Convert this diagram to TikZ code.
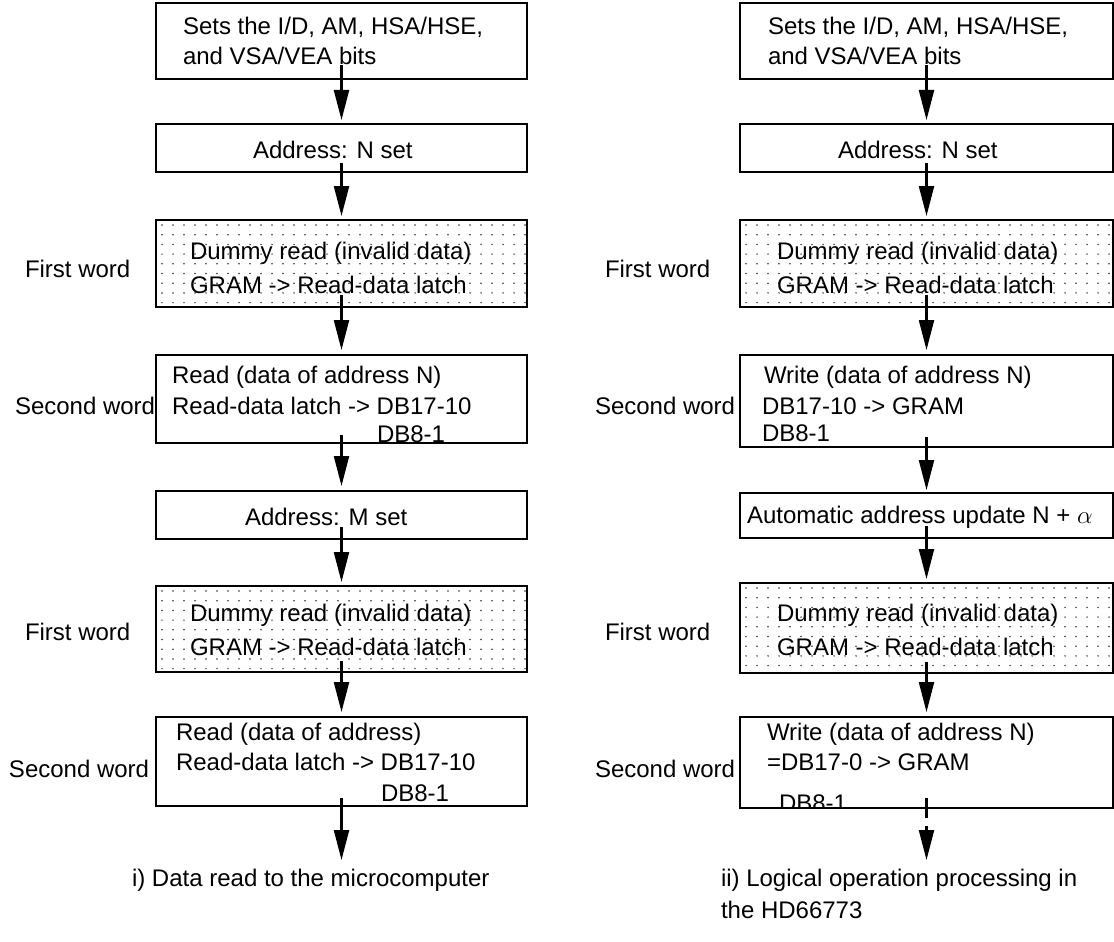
\documentclass[tikz,border=0pt]{standalone}
\usepackage{fontspec}
\setmainfont{Liberation Sans}
\usetikzlibrary{arrows.meta,calc}
\begin{document}
\begin{tikzpicture}[x=1pt,y=-1pt,
  box/.style={draw,line width=2.2pt,inner sep=0pt,outer sep=0pt},
  dotbox/.style={box,path picture={
    \foreach \i in {0,...,34}{\foreach \j in {0,...,9}{
      \fill[black!80] ([xshift={6pt+11pt*\i},yshift={-5pt-9.7pt*\j}]path picture bounding box.north west) circle[radius=0.85pt];}}}},
  txt/.style={inner sep=0pt,outer sep=0pt,anchor=base west,font=\fontsize{24}{28}\selectfont},
  arr/.style={line width=2.2pt,-{Triangle[length=30pt,width=15pt]}},
  shaft/.style={line width=2.2pt},
]
\useasboundingbox (0,0) rectangle (1114,942);

% ---------- left column ----------
\node[box,minimum width=371pt,minimum height=76pt] (L1) at (341.5,41) {};
\node[box,minimum width=371pt,minimum height=48pt] (L2) at (341.5,148) {};
\node[dotbox,minimum width=371pt,minimum height=87pt] (L3) at (341.5,263.5) {};
\node[box,minimum width=371pt,minimum height=88pt] (L4) at (341.5,399) {};
\node[box,minimum width=371pt,minimum height=48pt] (L5) at (341.5,515) {};
\node[dotbox,minimum width=371pt,minimum height=86pt] (L6) at (341.5,629) {};
\node[box,minimum width=371pt,minimum height=89pt] (L7) at (341.5,761.5) {};
\coordinate (Lout) at (341.5,860);

\node[txt] (L1a) at (183,35) {Sets the I/D, AM, HSA/HSE,};
\node[txt] (L1b) at (183,65) {and VSA/VEA bits};
\node[txt] (L2a) at (253,158) {Address: N set};
\node[txt] (L3a) at (190,259) {Dummy read (invalid data)};
\node[txt] (L3b) at (190,293) {GRAM -> Read-data latch};
\node[txt] (L4a) at (172,383) {Read (data of address N)};
\node[txt] (L4b) at (172,414) {Read-data latch -> DB17-10};
\node[txt] (L4c) at (377,442) {DB8-1};
\node[txt] (L5a) at (245,525) {Address: M set};
\node[txt] (L6a) at (190,621) {Dummy read (invalid data)};
\node[txt] (L6b) at (190,655) {GRAM -> Read-data latch};
\node[txt] (L7a) at (176,740) {Read (data of address)};
\node[txt] (L7b) at (176,770) {Read-data latch -> DB17-10};
\node[txt] (L7c) at (381,801) {DB8-1};

\node[txt] (LW1) at (25,277) {First word};
\node[txt] (LW2) at (15,414) {Second word};
\node[txt] (LW3) at (25,640) {First word};
\node[txt] (LW4) at (9,777) {Second word};

\draw[arr] ($(L1.south)+(0,-14)$) -- ($(L2.north)+(0,-4)$);
\draw[arr] ($(L2.south)+(0,-9)$) -- ($(L3.north)+(0,-4)$);
\draw[arr] ($(L3.south)+(0,-12)$) -- ($(L4.north)+(0,-5)$);
\draw[arr] ($(L4.south)+(0,-8)$) -- ($(L5.north)+(0,-5)$);
\draw[arr] ($(L5.south)+(0,-12)$) -- ($(L6.north)+(0,-4)$);
\draw[arr] ($(L6.south)+(0,-11)$) -- ($(L7.north)+(0,-5)$);
\draw[arr] ($(L7.south)+(0,-8)$) -- (Lout);

\node[txt] (Lcap) at (132,886) {i) Data read to the microcomputer};

% ---------- right column ----------
\node[box,minimum width=373pt,minimum height=76pt] (R1) at (926.5,41) {};
\node[box,minimum width=373pt,minimum height=48pt] (R2) at (926.5,148) {};
\node[dotbox,minimum width=373pt,minimum height=87pt] (R3) at (926.5,263.5) {};
\node[box,minimum width=373pt,minimum height=92pt] (R4) at (926.5,401) {};
\node[box,minimum width=373pt,minimum height=45pt] (R5) at (926.5,515.5) {};
\node[dotbox,minimum width=373pt,minimum height=90pt] (R6) at (926.5,628) {};
\node[box,minimum width=373pt,minimum height=91pt] (R7) at (926.5,762.5) {};
\coordinate (Rgap) at (926.5,818);
\coordinate (Rhead) at (926.5,826);
\coordinate (Rout) at (926.5,860);

\node[txt] (R1a) at (768,35) {Sets the I/D, AM, HSA/HSE,};
\node[txt] (R1b) at (768,65) {and VSA/VEA bits};
\node[txt] (R2a) at (838,158) {Address: N set};
\node[txt] (R3a) at (777,259) {Dummy read (invalid data)};
\node[txt] (R3b) at (777,293) {GRAM -> Read-data latch};
\node[txt] (R4a) at (764,383) {Write (data of address N)};
\node[txt] (R4b) at (762,414) {DB17-10 -> GRAM};
\node[txt] (R4c) at (762,441) {DB8-1};
\node[txt] (R5a) at (747,523) {Automatic address update N + $\alpha$};
\node[txt] (R6a) at (777,621) {Dummy read (invalid data)};
\node[txt] (R6b) at (777,655) {GRAM -> Read-data latch};
\node[txt] (R7a) at (767,740) {Write (data of address N)};
\node[txt] (R7b) at (767,770) {=DB17-0 -> GRAM};
\begin{scope}
  \clip (741,780) rectangle (1112,806);
  \node[txt] (R7c) at (779,811) {DB8-1};
\end{scope}

\node[txt] (RW1) at (605,277) {First word};
\node[txt] (RW2) at (595,414) {Second word};
\node[txt] (RW3) at (605,640) {First word};
\node[txt] (RW4) at (595,777) {Second word};

\draw[arr] ($(R1.south)+(0,-14)$) -- ($(R2.north)+(0,-4)$);
\draw[arr] ($(R2.south)+(0,-9)$) -- ($(R3.north)+(0,-4)$);
\draw[arr] ($(R3.south)+(0,-12)$) -- ($(R4.north)+(0,-5)$);
\draw[arr] ($(R4.south)+(0,-10)$) -- ($(R5.north)+(0,-3)$);
\draw[arr] ($(R5.south)+(0,-12)$) -- ($(R6.north)+(0,-4)$);
\draw[arr] ($(R6.south)+(0,-11)$) -- ($(R7.north)+(0,-5)$);
\draw[shaft] ($(R7.south)+(0,-10)$) -- (Rgap);
\draw[arr] (Rhead) -- (Rout);

\node[txt] (Rcap1) at (721,886) {ii) Logical operation processing in};
\node[txt] (Rcap2) at (721,918) {the HD66773};
\end{tikzpicture}
\end{document}
